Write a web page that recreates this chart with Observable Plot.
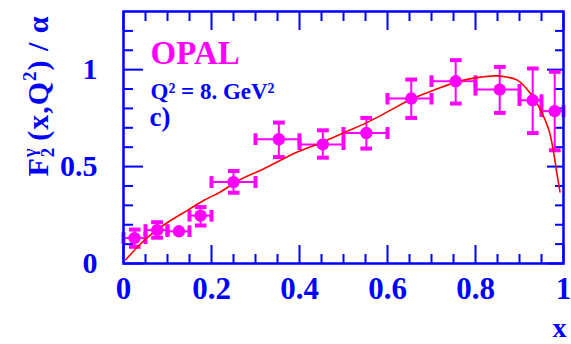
<!DOCTYPE html>
<html>
<head>
<meta charset="utf-8">
<script src="https://cdn.jsdelivr.net/npm/d3@7"></script>
<script src="https://cdn.jsdelivr.net/npm/@observablehq/plot@0.6"></script>
<style>
  html, body { margin: 0; padding: 0; background: #fff; }
</style>
</head>
<body>
<div id="chart"></div>
<script>
// OPAL F2gamma/alpha data at Q^2 = 8 GeV^2
const xMid = [0.025, 0.0765, 0.126, 0.175, 0.25, 0.353, 0.453, 0.552, 0.654, 0.755, 0.855, 0.930, 0.980];
const xLo  = [0.0, 0.05, 0.10, 0.15, 0.20, 0.30, 0.40, 0.50, 0.60, 0.70, 0.80, 0.90, 0.95];
const xHi  = [0.05, 0.10, 0.15, 0.20, 0.30, 0.40, 0.50, 0.60, 0.70, 0.80, 0.90, 0.95, 1.00];
const f2   = [0.131, 0.172, 0.166, 0.247, 0.420, 0.641, 0.614, 0.673, 0.851, 0.940, 0.897, 0.842, 0.786];
const f2Lo = [0.086, 0.133, 0.166, 0.196, 0.365, 0.549, 0.546, 0.593, 0.751, 0.825, 0.777, 0.673, 0.584];
const f2Hi = [0.175, 0.213, 0.166, 0.291, 0.477, 0.727, 0.687, 0.751, 0.949, 1.049, 1.014, 1.006, 0.989];

// theory curve
const curveX = [0.005, 0.039, 0.069, 0.107, 0.145, 0.183, 0.22, 0.262, 0.319, 0.395, 0.448, 0.505, 0.554, 0.607, 0.652, 0.705, 0.758, 0.808, 0.845, 0.87, 0.895, 0.925, 0.948, 0.967, 0.978, 0.985, 0.992];
const curveY = [0.019, 0.102, 0.162, 0.222, 0.274, 0.326, 0.369, 0.429, 0.489, 0.575, 0.622, 0.679, 0.728, 0.791, 0.846, 0.894, 0.937, 0.960, 0.968, 0.962, 0.946, 0.877, 0.791, 0.687, 0.567, 0.464, 0.369];

// axis ticks
const xMajor = [0, 0.2, 0.4, 0.6, 0.8, 1];
const xMinor = [0.05, 0.1, 0.15, 0.25, 0.3, 0.35, 0.45, 0.5, 0.55, 0.65, 0.7, 0.75, 0.85, 0.9, 0.95];
const yMajor = [0, 0.5, 1];
const yMinor = [0.1, 0.2, 0.3, 0.4, 0.6, 0.7, 0.8, 0.9, 1.1, 1.2];

const points = xMid.map((x, i) => ({x, y: f2[i], xl: xLo[i], xh: xHi[i], yl: f2Lo[i], yh: f2Hi[i]}));
const curve = curveX.map((x, i) => ({x, y: curveY[i]}));

const BLUE = "#0000ff";
const MAG = "#ff00ff";
const SERIF = "'Liberation Serif', 'Times New Roman', serif";
const fmt = d => String(d);

const plot = Plot.plot({
  width: 571,
  height: 344,
  marginLeft: 123,
  marginRight: 8,
  marginTop: 11,
  marginBottom: 81,
  style: {fontFamily: SERIF, fontWeight: "bold", color: BLUE, background: "#fff"},
  x: {domain: [0, 1]},
  y: {domain: [0, 1.3]},
  marks: [
    // tick marks (inward)
    Plot.axisX(xMinor, {anchor: "bottom", tickSize: -9, strokeWidth: 2, text: null, label: null}),
    Plot.axisX(xMajor, {anchor: "bottom", tickSize: -18, strokeWidth: 2, text: null, label: null}),
    Plot.axisX(xMinor, {anchor: "top", tickSize: -9, strokeWidth: 2, text: null, label: null}),
    Plot.axisX(xMajor, {anchor: "top", tickSize: -18, strokeWidth: 2, text: null, label: null}),
    Plot.axisY(yMinor, {anchor: "left", tickSize: -10, strokeWidth: 2, text: null, label: null}),
    Plot.axisY(yMajor, {anchor: "left", tickSize: -20, strokeWidth: 2, text: null, label: null}),
    Plot.axisY(yMinor, {anchor: "right", tickSize: -9, strokeWidth: 2, text: null, label: null}),
    Plot.axisY(yMajor, {anchor: "right", tickSize: -17, strokeWidth: 2, text: null, label: null}),
    // tick labels
    Plot.axisX(xMajor, {anchor: "bottom", tickSize: 0, tickPadding: 13, fontSize: 31, label: null, fill: BLUE, tickFormat: fmt}),
    Plot.axisY(yMajor, {anchor: "left", tickSize: 0, tickPadding: 26, fontSize: 30, label: null, fill: BLUE, tickFormat: fmt}),
    // error bars
    Plot.link(points, {x1: "xl", x2: "xh", y1: "y", y2: "y", stroke: MAG, strokeWidth: 2, markerStart: "tick", markerEnd: "tick"}),
    Plot.link(points.filter(d => d.yh - d.yl > 0), {x1: "x", x2: "x", y1: "yl", y2: "yh", stroke: MAG, strokeWidth: 2, markerStart: "tick", markerEnd: "tick"}),
    // curve
    Plot.line(curve, {x: "x", y: "y", stroke: "#ff0000", strokeWidth: 1.6, curve: "catmull-rom"}),
    // data points
    Plot.dot(points, {x: "x", y: "y", r: 6.2, fill: MAG, stroke: null}),
    // annotations
    Plot.text(["OPAL"], {frameAnchor: "top-left", textAnchor: "start", lineAnchor: "top", dx: 27, dy: 29, fontSize: 33, fill: MAG, text: d => d}),
    Plot.text(["Q² = 8. GeV²"], {frameAnchor: "top-left", textAnchor: "start", lineAnchor: "top", dx: 27, dy: 71, fontSize: 23, fill: BLUE, text: d => d}),
    Plot.text(["c)"], {frameAnchor: "top-left", textAnchor: "start", lineAnchor: "top", dx: 26, dy: 95, fontSize: 27, fill: BLUE, text: d => d}),
    Plot.text(["x"], {frameAnchor: "bottom-right", textAnchor: "end", lineAnchor: "top", dx: 3, dy: 54, fontSize: 28, fill: BLUE, text: d => d}),
    Plot.frame({stroke: BLUE, strokeWidth: 2.5})
  ]
});

// rotated y-axis title with sub/superscripts
const svg = d3.select(plot);
const t = svg.append("text")
  .attr("transform", "translate(48,96) rotate(-90)")
  .attr("text-anchor", "middle")
  .attr("letter-spacing", 1)
  .attr("fill", BLUE)
  .attr("font-size", 30)
  .attr("font-weight", "bold")
  .attr("font-family", SERIF);
t.append("tspan").text("F");
t.append("tspan").attr("font-size", 19).attr("dy", -12).text("γ");
t.append("tspan").attr("font-size", 19).attr("dx", -10).attr("dy", 18).text("2");
t.append("tspan").attr("dx", 6).attr("dy", -6).text("(x,Q");
t.append("tspan").attr("font-size", 19).attr("dy", -12).text("2");
t.append("tspan").attr("dy", 12).text(") / α");

document.getElementById("chart").appendChild(plot);
</script>
</body>
</html>
